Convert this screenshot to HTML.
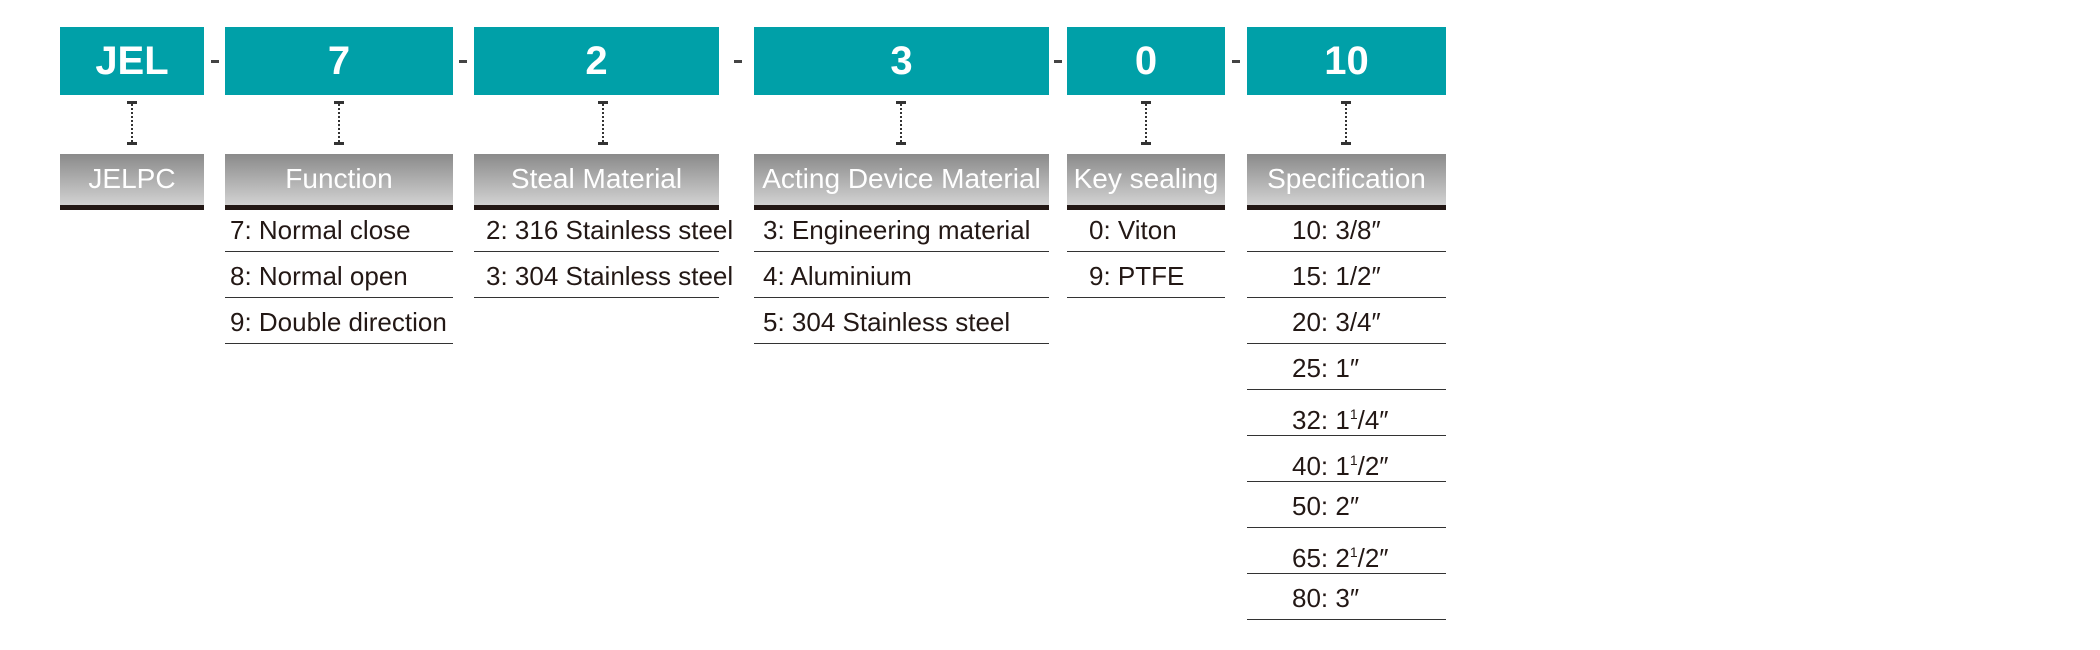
<!DOCTYPE html>
<html><head><meta charset="utf-8"><style>
body{margin:0;background:#fff;}
#root{position:relative;width:2100px;height:650px;overflow:hidden;background:#fff;font-family:"Liberation Sans Narrow","Liberation Sans",sans-serif;}
.code{position:absolute;top:27px;height:68px;background:#00a0a8;color:#fff;font-family:"Liberation Sans",sans-serif;font-weight:bold;font-size:40px;line-height:68px;text-align:center;}
.dash{position:absolute;top:60px;width:8px;height:3px;background:#444;}
.conn{position:absolute;top:101px;height:44px;width:10px;}
.conn .t,.conn .b{position:absolute;left:0;width:10px;height:3px;background:#333;}
.conn .t{top:0}.conn .b{bottom:0}
.conn .v{position:absolute;left:4px;top:3px;bottom:3px;border-left:2px dotted #333;}
.head{position:absolute;top:154px;height:51px;background:linear-gradient(#8a8a8a,#d2d2d2);color:#fff;font-size:28px;line-height:50px;text-align:center;border-bottom:5px solid #231815;white-space:nowrap;}
.row{position:absolute;height:45px;border-bottom:1.5px solid #333;font-size:26px;line-height:46px;color:#231815;white-space:nowrap;}
sup{font-size:14px;vertical-align:10px;}
</style></head><body>
<div id="root">
<div class="code" style="left:60px;width:144px">JEL</div>
<div class="code" style="left:225px;width:228px">7</div>
<div class="code" style="left:474px;width:245px">2</div>
<div class="code" style="left:754px;width:295px">3</div>
<div class="code" style="left:1067px;width:158px">0</div>
<div class="code" style="left:1247px;width:199px">10</div>

<div class="dash" style="left:211px"></div>
<div class="dash" style="left:459px"></div>
<div class="dash" style="left:734px"></div>
<div class="dash" style="left:1054px"></div>
<div class="dash" style="left:1232px"></div>

<div class="conn" style="left:127px"><div class="t"></div><div class="v"></div><div class="b"></div></div>
<div class="conn" style="left:334px"><div class="t"></div><div class="v"></div><div class="b"></div></div>
<div class="conn" style="left:598px"><div class="t"></div><div class="v"></div><div class="b"></div></div>
<div class="conn" style="left:896px"><div class="t"></div><div class="v"></div><div class="b"></div></div>
<div class="conn" style="left:1141px"><div class="t"></div><div class="v"></div><div class="b"></div></div>
<div class="conn" style="left:1341px"><div class="t"></div><div class="v"></div><div class="b"></div></div>

<div class="head" style="left:60px;width:144px">JELPC</div>
<div class="head" style="left:225px;width:228px">Function</div>
<div class="head" style="left:474px;width:245px">Steal Material</div>
<div class="head" style="left:754px;width:295px">Acting Device Material</div>
<div class="head" style="left:1067px;width:158px">Key sealing</div>
<div class="head" style="left:1247px;width:199px">Specification</div>

<div class="row" style="left:225px;width:228px;top:207px;padding-left:5px;box-sizing:border-box">7: Normal close</div>
<div class="row" style="left:225px;width:228px;top:253px;padding-left:5px;box-sizing:border-box">8: Normal open</div>
<div class="row" style="left:225px;width:228px;top:299px;padding-left:5px;box-sizing:border-box">9: Double direction</div>

<div class="row" style="left:474px;width:245px;top:207px;padding-left:12px;box-sizing:border-box">2: 316 Stainless steel</div>
<div class="row" style="left:474px;width:245px;top:253px;padding-left:12px;box-sizing:border-box">3: 304 Stainless steel</div>

<div class="row" style="left:754px;width:295px;top:207px;padding-left:9px;box-sizing:border-box">3: Engineering material</div>
<div class="row" style="left:754px;width:295px;top:253px;padding-left:9px;box-sizing:border-box">4: Aluminium</div>
<div class="row" style="left:754px;width:295px;top:299px;padding-left:9px;box-sizing:border-box">5: 304 Stainless steel</div>

<div class="row" style="left:1067px;width:158px;top:207px;padding-left:22px;box-sizing:border-box">0: Viton</div>
<div class="row" style="left:1067px;width:158px;top:253px;padding-left:22px;box-sizing:border-box">9: PTFE</div>

<div class="row" style="left:1247px;width:199px;top:207px;padding-left:45px;box-sizing:border-box">10: 3/8″</div>
<div class="row" style="left:1247px;width:199px;top:253px;padding-left:45px;box-sizing:border-box">15: 1/2″</div>
<div class="row" style="left:1247px;width:199px;top:299px;padding-left:45px;box-sizing:border-box">20: 3/4″</div>
<div class="row" style="left:1247px;width:199px;top:345px;padding-left:45px;box-sizing:border-box">25: 1″</div>
<div class="row" style="left:1247px;width:199px;top:391px;padding-left:45px;box-sizing:border-box">32: 1<sup>1</sup>/4″</div>
<div class="row" style="left:1247px;width:199px;top:437px;padding-left:45px;box-sizing:border-box">40: 1<sup>1</sup>/2″</div>
<div class="row" style="left:1247px;width:199px;top:483px;padding-left:45px;box-sizing:border-box">50: 2″</div>
<div class="row" style="left:1247px;width:199px;top:529px;padding-left:45px;box-sizing:border-box">65: 2<sup>1</sup>/2″</div>
<div class="row" style="left:1247px;width:199px;top:575px;padding-left:45px;box-sizing:border-box">80: 3″</div>
</div>
</body></html>
